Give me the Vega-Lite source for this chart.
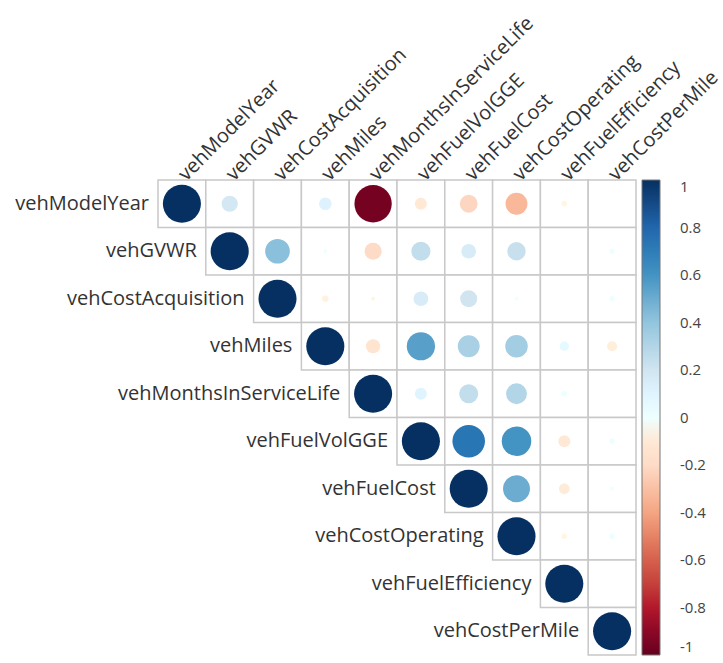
{
  "$schema": "https://vega.github.io/schema/vega-lite/v6.json",
  "width": 478,
  "height": 475,
  "padding": {"left": 158, "top": 180, "right": 87, "bottom": 8},
  "autosize": {"type": "none"},
  "background": "white",
  "config": {"view": {"stroke": null}, "font": "Open Sans"},
  "data": {"values": [
    {"row": "vehModelYear", "col": "vehModelYear", "r": 1},
    {"row": "vehModelYear", "col": "vehGVWR", "r": 0.18},
    {"row": "vehModelYear", "col": "vehCostAcquisition", "r": 0.0},
    {"row": "vehModelYear", "col": "vehMiles", "r": 0.11},
    {"row": "vehModelYear", "col": "vehMonthsInServiceLife", "r": -0.96},
    {"row": "vehModelYear", "col": "vehFuelVolGGE", "r": -0.1},
    {"row": "vehModelYear", "col": "vehFuelCost", "r": -0.22},
    {"row": "vehModelYear", "col": "vehCostOperating", "r": -0.33},
    {"row": "vehModelYear", "col": "vehFuelEfficiency", "r": -0.02},
    {"row": "vehModelYear", "col": "vehCostPerMile", "r": 0.0},
    {"row": "vehGVWR", "col": "vehGVWR", "r": 1},
    {"row": "vehGVWR", "col": "vehCostAcquisition", "r": 0.42},
    {"row": "vehGVWR", "col": "vehMiles", "r": 0.01},
    {"row": "vehGVWR", "col": "vehMonthsInServiceLife", "r": -0.2},
    {"row": "vehGVWR", "col": "vehFuelVolGGE", "r": 0.25},
    {"row": "vehGVWR", "col": "vehFuelCost", "r": 0.15},
    {"row": "vehGVWR", "col": "vehCostOperating", "r": 0.23},
    {"row": "vehGVWR", "col": "vehFuelEfficiency", "r": 0.0},
    {"row": "vehGVWR", "col": "vehCostPerMile", "r": 0.02},
    {"row": "vehCostAcquisition", "col": "vehCostAcquisition", "r": 1},
    {"row": "vehCostAcquisition", "col": "vehMiles", "r": -0.03},
    {"row": "vehCostAcquisition", "col": "vehMonthsInServiceLife", "r": -0.01},
    {"row": "vehCostAcquisition", "col": "vehFuelVolGGE", "r": 0.15},
    {"row": "vehCostAcquisition", "col": "vehFuelCost", "r": 0.2},
    {"row": "vehCostAcquisition", "col": "vehCostOperating", "r": 0.01},
    {"row": "vehCostAcquisition", "col": "vehFuelEfficiency", "r": 0.0},
    {"row": "vehCostAcquisition", "col": "vehCostPerMile", "r": 0.02},
    {"row": "vehMiles", "col": "vehMiles", "r": 1},
    {"row": "vehMiles", "col": "vehMonthsInServiceLife", "r": -0.14},
    {"row": "vehMiles", "col": "vehFuelVolGGE", "r": 0.55},
    {"row": "vehMiles", "col": "vehFuelCost", "r": 0.33},
    {"row": "vehMiles", "col": "vehCostOperating", "r": 0.35},
    {"row": "vehMiles", "col": "vehFuelEfficiency", "r": 0.06},
    {"row": "vehMiles", "col": "vehCostPerMile", "r": -0.07},
    {"row": "vehMonthsInServiceLife", "col": "vehMonthsInServiceLife", "r": 1},
    {"row": "vehMonthsInServiceLife", "col": "vehFuelVolGGE", "r": 0.1},
    {"row": "vehMonthsInServiceLife", "col": "vehFuelCost", "r": 0.25},
    {"row": "vehMonthsInServiceLife", "col": "vehCostOperating", "r": 0.3},
    {"row": "vehMonthsInServiceLife", "col": "vehFuelEfficiency", "r": 0.02},
    {"row": "vehMonthsInServiceLife", "col": "vehCostPerMile", "r": 0.0},
    {"row": "vehFuelVolGGE", "col": "vehFuelVolGGE", "r": 1},
    {"row": "vehFuelVolGGE", "col": "vehFuelCost", "r": 0.73},
    {"row": "vehFuelVolGGE", "col": "vehCostOperating", "r": 0.6},
    {"row": "vehFuelVolGGE", "col": "vehFuelEfficiency", "r": -0.1},
    {"row": "vehFuelVolGGE", "col": "vehCostPerMile", "r": 0.02},
    {"row": "vehFuelCost", "col": "vehFuelCost", "r": 1},
    {"row": "vehFuelCost", "col": "vehCostOperating", "r": 0.5},
    {"row": "vehFuelCost", "col": "vehFuelEfficiency", "r": -0.08},
    {"row": "vehFuelCost", "col": "vehCostPerMile", "r": 0.01},
    {"row": "vehCostOperating", "col": "vehCostOperating", "r": 1},
    {"row": "vehCostOperating", "col": "vehFuelEfficiency", "r": -0.02},
    {"row": "vehCostOperating", "col": "vehCostPerMile", "r": 0.02},
    {"row": "vehFuelEfficiency", "col": "vehFuelEfficiency", "r": 1},
    {"row": "vehFuelEfficiency", "col": "vehCostPerMile", "r": 0.0},
    {"row": "vehCostPerMile", "col": "vehCostPerMile", "r": 1}
  ]},
  "encoding": {
    "x": {"field": "col", "type": "nominal", "sort": ["vehModelYear","vehGVWR","vehCostAcquisition","vehMiles","vehMonthsInServiceLife","vehFuelVolGGE","vehFuelCost","vehCostOperating","vehFuelEfficiency","vehCostPerMile"],
      "scale": {"paddingInner": 0, "paddingOuter": 0},
      "axis": {"orient": "top", "title": null, "labelAngle": -45, "labelAlign": "left", "labelBaseline": "middle", "ticks": false, "domain": false, "labelPadding": 3, "labelFontSize": 20, "labelColor": "#333333", "labelFont": "Open Sans", "labelLimit": 0}},
    "y": {"field": "row", "type": "nominal", "sort": ["vehModelYear","vehGVWR","vehCostAcquisition","vehMiles","vehMonthsInServiceLife","vehFuelVolGGE","vehFuelCost","vehCostOperating","vehFuelEfficiency","vehCostPerMile"],
      "scale": {"paddingInner": 0, "paddingOuter": 0},
      "axis": null}
  },
  "layer": [
    {"mark": {"type": "rect", "fill": "white", "stroke": "#c8c8c8", "strokeWidth": 1.5}},
    {"mark": {"type": "point", "shape": "circle", "filled": true, "opacity": 1, "fillOpacity": 1, "strokeWidth": 0},
     "encoding": {
       "size": {"field": "r", "type": "quantitative", "scale": {"domain": [-1, 0, 1], "range": [1450, 0, 1450]}, "legend": null},
       "color": {"field": "r", "type": "quantitative",
         "scale": {"domain": [-1, -0.8, -0.6, -0.4, -0.2, 0, 0.2, 0.4, 0.6, 0.8, 1],
                   "range": ["#67001f", "#b2182b", "#d6604d", "#f4a582", "#fddbc7", "#ffffff", "#d1e5f0", "#92c5de", "#4393c3", "#2166ac", "#053061"]},
         "legend": {"title": null, "orient": "none", "legendX": 484, "legendY": 0, "direction": "vertical",
           "gradientLength": 475, "gradientThickness": 18, "gradientStrokeColor": "#777777", "gradientStrokeWidth": 1,
           "values": [-1, -0.8, -0.6, -0.4, -0.2, 0, 0.2, 0.4, 0.6, 0.8, 1],
           "labelExpr": "'' + datum.value", "labelFontSize": 15, "labelColor": "#444444", "labelFont": "Open Sans", "labelAlign": "center", "labelOffset": 20, "labelOverlap": false}}
     }},
    {"transform": [{"filter": "datum.row == datum.col"}],
     "mark": {"type": "text", "align": "right", "baseline": "middle", "dx": -9, "fontSize": 20, "color": "#333333", "font": "Open Sans"},
     "encoding": {"x": {"field": "col", "type": "nominal", "bandPosition": 0, "sort": ["vehModelYear","vehGVWR","vehCostAcquisition","vehMiles","vehMonthsInServiceLife","vehFuelVolGGE","vehFuelCost","vehCostOperating","vehFuelEfficiency","vehCostPerMile"]},
       "text": {"field": "row"}}}
  ]
}
